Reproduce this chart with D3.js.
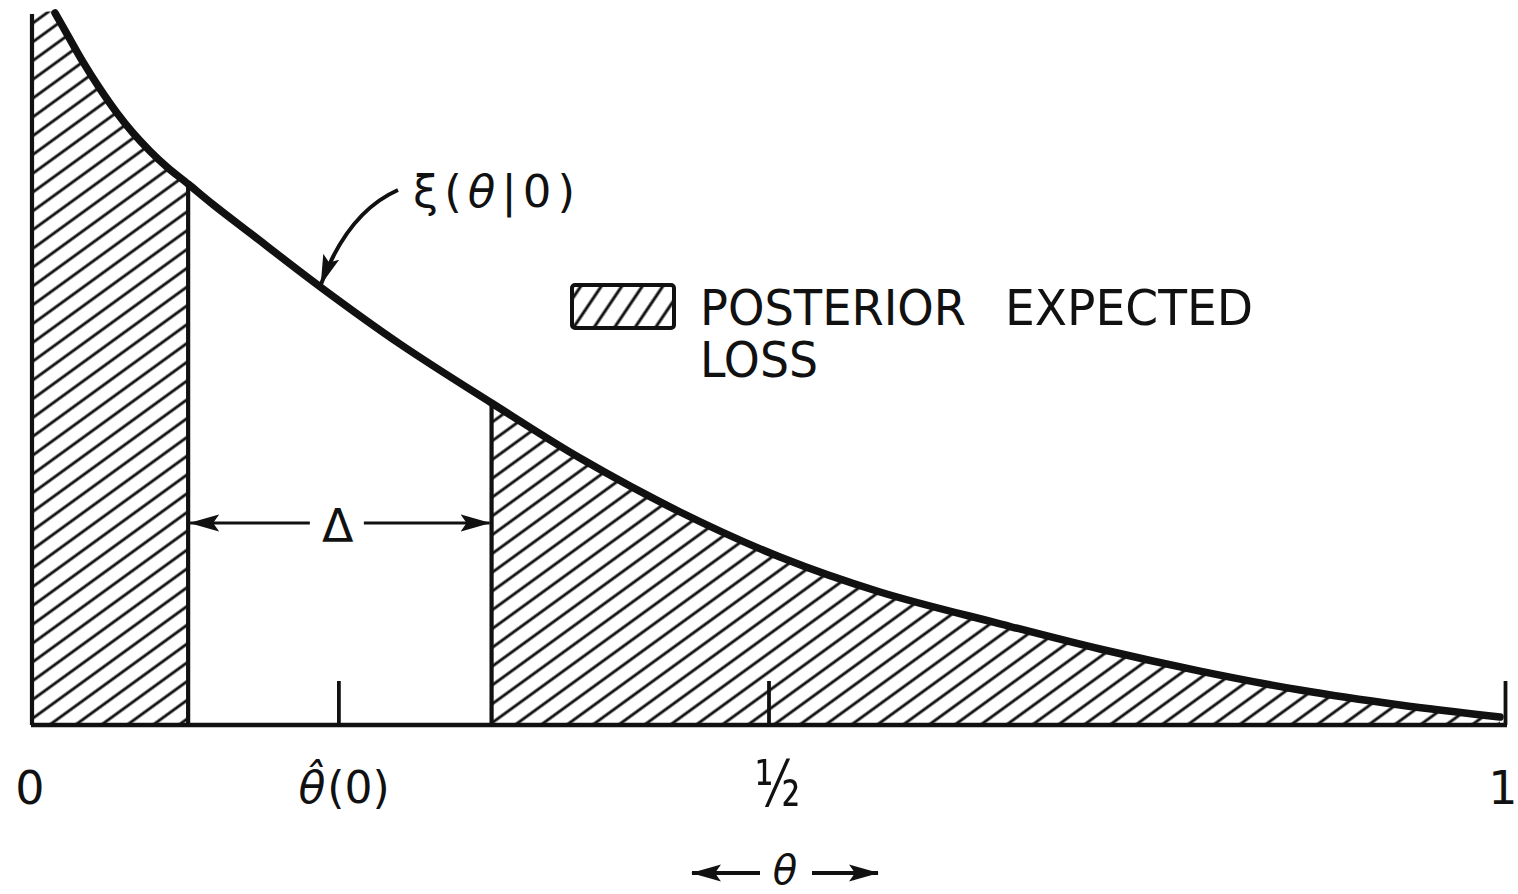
<!DOCTYPE html>
<html>
<head>
<meta charset="utf-8">
<script src="https://cdn.jsdelivr.net/npm/d3@7"></script>
<style>
  html, body { margin: 0; padding: 0; background: #fff; }
  svg { display: block; }
  text { font-family: "DejaVu Sans", sans-serif; fill: #111; }
</style>
</head>
<body>
<svg id="chart" width="1518" height="894"></svg>
<script>
// Posterior density xi(theta | 0), sampled along theta
const theta   = [0.0156, 0.0238, 0.0346, 0.0462, 0.0577, 0.0686, 0.0801, 0.0917, 0.106, 0.1229, 0.148, 0.1976, 0.2498, 0.312, 0.372, 0.44, 0.5078, 0.5757, 0.6572, 0.725, 0.793, 0.8608, 0.9287, 0.9966];
const density = [3.196, 3.101, 2.976, 2.855, 2.747, 2.657, 2.576, 2.504, 2.428, 2.336, 2.208, 1.957, 1.71, 1.445, 1.198, 0.956, 0.754, 0.597, 0.454, 0.341, 0.242, 0.157, 0.09, 0.036];

// Interval of width Delta around the estimate; outside it is the expected loss
const interval = [0.106, 0.312];
const estimate = 0.208;

// Axis ticks and the end labels
const tickValues = [estimate, 0.5, 1];
const endLabels = [{ v: 0, text: "0" }, { v: 1, text: "1" }];

const svg = d3.select("#chart");
const ink = "#111";

const x = d3.scaleLinear().domain([0, 1]).range([32, 1505]);
const y = d3.scaleLinear().domain([0, 3.2]).range([725, 12]);

const pts = theta.map((t, i) => ({ t, d: density[i] }));
const densAt = t => pts.find(p => Math.abs(p.t - t) < 1e-9).d;
const smooth = d3.curveCatmullRom.alpha(0.5);

const defs = svg.append("defs");

// Diagonal hatching for the shaded regions
defs.append("pattern")
  .attr("id", "hatch")
  .attr("patternUnits", "userSpaceOnUse")
  .attr("width", 40).attr("height", 15.2)
  .attr("patternTransform", "rotate(-36)")
  .append("line")
  .attr("x1", 0).attr("x2", 40).attr("y1", 7.6).attr("y2", 7.6)
  .attr("stroke", ink).attr("stroke-width", 2.8);

defs.append("pattern")
  .attr("id", "hatchKey")
  .attr("patternUnits", "userSpaceOnUse")
  .attr("width", 40).attr("height", 17)
  .attr("patternTransform", "translate(572,285) rotate(-56)")
  .append("line")
  .attr("x1", 0).attr("x2", 40).attr("y1", 8).attr("y2", 8)
  .attr("stroke", ink).attr("stroke-width", 3);

// Clip regions outside the interval
defs.append("clipPath").attr("id", "clipLeft")
  .append("rect")
  .attr("x", x(0)).attr("y", 0)
  .attr("width", x(interval[0]) - x(0)).attr("height", y(0));
defs.append("clipPath").attr("id", "clipRight")
  .append("rect")
  .attr("x", x(interval[1])).attr("y", 0)
  .attr("width", x(1) - x(interval[1])).attr("height", y(0));

// Arrow head
defs.append("marker")
  .attr("id", "arrow")
  .attr("viewBox", "0 0 30 18")
  .attr("refX", 29).attr("refY", 9)
  .attr("markerWidth", 30).attr("markerHeight", 18)
  .attr("markerUnits", "userSpaceOnUse")
  .attr("orient", "auto")
  .append("path")
  .attr("d", "M0,0.5 L30,9 L0,17.5 L6,9 Z")
  .attr("fill", ink);

// Shaded areas under the density
const areaPts = [{ t: 0, d: density[0] }].concat(pts);
const area = d3.area()
  .x(p => x(p.t)).y0(y(0)).y1(p => y(p.d))
  .curve(smooth);

["clipLeft", "clipRight"].forEach(c => {
  svg.append("path")
    .attr("d", area(areaPts))
    .attr("fill", "url(#hatch)")
    .attr("clip-path", `url(#${c})`);
});

// Vertical boundaries
const vline = (t, top) => svg.append("line")
  .attr("x1", x(t)).attr("x2", x(t))
  .attr("y1", y(0)).attr("y2", top)
  .attr("stroke", ink).attr("stroke-width", 4.2);

vline(0, y(density[0]) + 1);
interval.forEach(t => vline(t, y(densAt(t))));

// Axis with upward ticks
const axis = d3.axisBottom(x)
  .tickValues(tickValues)
  .tickSizeInner(-44)
  .tickSizeOuter(0)
  .tickFormat("");

const gAxis = svg.append("g")
  .attr("transform", `translate(0,${y(0)})`)
  .call(axis);
gAxis.select(".domain")
  .attr("stroke", ink).attr("stroke-width", 4.5)
  .attr("d", `M${x(0) - 1},0H${x(1) + 2}`);
gAxis.selectAll(".tick line")
  .attr("stroke", ink).attr("stroke-width", 3.8);

// Density curve
svg.append("path")
  .attr("d", d3.line().x(p => x(p.t)).y(p => y(p.d)).curve(smooth)(pts))
  .attr("fill", "none")
  .attr("stroke", ink)
  .attr("stroke-width", 7.5)
  .attr("stroke-linecap", "round")
  .attr("stroke-linejoin", "round");

// Curve label with a curved pointer
svg.append("text")
  .attr("x", 413).attr("y", 207)
  .attr("font-size", 45)
  .attr("textLength", 162).attr("lengthAdjust", "spacing")
  .html('ξ(<tspan font-style="italic">θ</tspan>|0)');

const tipT = 0.1976;
svg.append("path")
  .attr("d", `M398,190 Q348,212 ${x(tipT) - 2},${y(densAt(tipT)) - 5}`)
  .attr("fill", "none")
  .attr("stroke", ink).attr("stroke-width", 4)
  .attr("marker-end", "url(#arrow)");

// Legend
svg.append("rect")
  .attr("x", 572).attr("y", 285)
  .attr("width", 102).attr("height", 43)
  .attr("rx", 3)
  .attr("fill", "url(#hatchKey)")
  .attr("stroke", ink).attr("stroke-width", 4);

svg.append("text")
  .attr("x", 700).attr("y", 325).attr("font-size", 49)
  .attr("textLength", 266).attr("lengthAdjust", "spacingAndGlyphs")
  .text("POSTERIOR");
svg.append("text")
  .attr("x", 1005).attr("y", 325).attr("font-size", 49)
  .attr("textLength", 248).attr("lengthAdjust", "spacingAndGlyphs")
  .text("EXPECTED");
svg.append("text")
  .attr("x", 700).attr("y", 377).attr("font-size", 49)
  .attr("textLength", 118).attr("lengthAdjust", "spacingAndGlyphs")
  .text("LOSS");

// Delta marker between the interval bounds
const dy = 523;
const dMid = (x(interval[0]) + x(interval[1])) / 2 - 2;
svg.append("line")
  .attr("x1", dMid - 28).attr("x2", x(interval[0]) + 2)
  .attr("y1", dy).attr("y2", dy)
  .attr("stroke", ink).attr("stroke-width", 3.2)
  .attr("marker-end", "url(#arrow)");
svg.append("line")
  .attr("x1", dMid + 26).attr("x2", x(interval[1]) - 2)
  .attr("y1", dy).attr("y2", dy)
  .attr("stroke", ink).attr("stroke-width", 3.2)
  .attr("marker-end", "url(#arrow)");
svg.append("text")
  .attr("x", dMid).attr("y", 542)
  .attr("text-anchor", "middle")
  .attr("font-size", 46)
  .text("Δ");

// Tick labels
endLabels.forEach(l => {
  svg.append("text")
    .attr("x", x(l.v) - 2).attr("y", 804)
    .attr("text-anchor", "middle")
    .attr("font-size", 46)
    .text(l.text);
});

svg.append("text")
  .attr("x", x(estimate) - 40).attr("y", 803)
  .attr("font-size", 44)
  .html('<tspan font-style="italic">θ̂</tspan><tspan dx="2">(0)</tspan>');

svg.append("text")
  .attr("x", x(0.5) - 14).attr("y", 806)
  .attr("font-size", 64)
  .attr("textLength", 46).attr("lengthAdjust", "spacingAndGlyphs")
  .text("½");

// Theta direction indicator
const ay = 873;
svg.append("line")
  .attr("x1", 760).attr("x2", 692)
  .attr("y1", ay).attr("y2", ay)
  .attr("stroke", ink).attr("stroke-width", 4)
  .attr("marker-end", "url(#arrow)");
svg.append("line")
  .attr("x1", 812).attr("x2", 878)
  .attr("y1", ay).attr("y2", ay)
  .attr("stroke", ink).attr("stroke-width", 4)
  .attr("marker-end", "url(#arrow)");
svg.append("text")
  .attr("x", 785).attr("y", 884)
  .attr("text-anchor", "middle")
  .attr("font-size", 40)
  .attr("font-style", "italic")
  .text("θ");
</script>
</body>
</html>
